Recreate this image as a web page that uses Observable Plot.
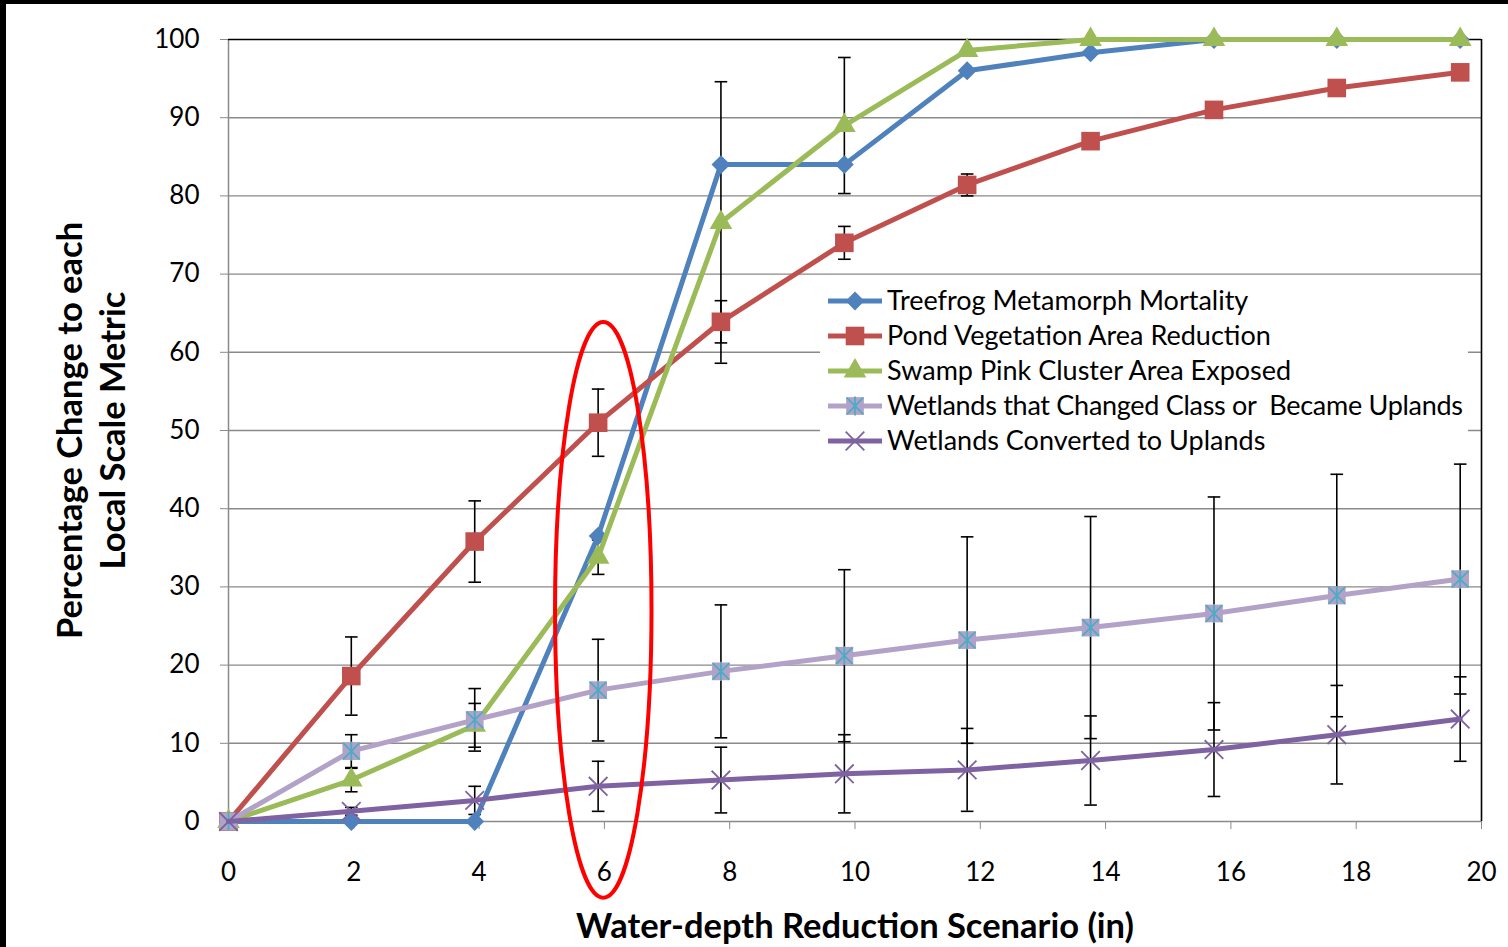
<!DOCTYPE html>
<html>
<head>
<meta charset="utf-8">
<script src="https://cdn.jsdelivr.net/npm/d3@7"></script>
<script src="https://cdn.jsdelivr.net/npm/@observablehq/plot@0.6"></script>
<style>
html, body { margin: 0; padding: 0; background: #fff; }
#frame { position: relative; width: 1508px; height: 947px; overflow: hidden; background: #fff; }
#frame::before { content: ""; position: absolute; left: 0; top: 0; width: 6px; height: 947px; background: #000; z-index: 2; }
#frame::after { content: ""; position: absolute; left: 0; top: 0; width: 1508px; height: 4px; background: #000; z-index: 2; }
#frame svg { position: absolute; left: 0; top: 0; }
</style>
</head>
<body>
<div id="frame"></div>
<script>
// ---- data ----
const scenarios = [0, 1.96, 3.93, 5.9, 7.86, 9.83, 11.79, 13.76, 15.73, 17.69, 19.66];
const xTicks = [0, 2, 4, 6, 8, 10, 12, 14, 16, 18, 20];
const yTicks = [0, 10, 20, 30, 40, 50, 60, 70, 80, 90, 100];
const seriesNames = [
  "Treefrog Metamorph Mortality",
  "Pond Vegetation Area Reduction",
  "Swamp Pink Cluster Area Exposed",
  "Wetlands that Changed Class or  Became Uplands",
  "Wetlands Converted to Uplands"
];
const treefrog     = [0, 0, 0, 36.5, 84, 84, 96, 98.3, 100, 100, 100];
const pondVeg      = [0, 18.6, 35.8, 51, 63.9, 74, 81.4, 87, 91, 93.8, 95.8];
const swampPink    = [0, 5.3, 12.3, 33.8, 76.6, 89, 98.6, 100, 100, 100, 100];
const wetChanged   = [0, 9, 13, 16.8, 19.2, 21.2, 23.2, 24.8, 26.6, 28.9, 31];
const wetConverted = [0, 1.3, 2.7, 4.5, 5.3, 6.1, 6.6, 7.8, 9.2, 11.1, 13.1];
// error bar half-widths (null = none visible)
const treefrogErr     = [null, null, null, null, null, null, null, null, null, null, null];
const pondVegErr      = [null, 5, 5.2, 4.3, 2.7, 2.1, 1.4, null, null, null, null];
const swampPinkErr    = [null, 1.5, 2.8, 2.2, 18, 8.7, null, null, null, null, null];
const wetChangedErr   = [null, 2.1, 4, 6.5, 8.5, 11, 13.2, 14.2, 14.9, 15.5, 14.7];
const wetConvertedErr = [null, 0.5, 1.8, 3.2, 4.2, 5, 5.3, 5.7, 6, 6.3, 5.4];
// highlighted scenario (red ellipse): centre and radii in data units
const highlightEllipse = [{cx: 5.99, cy: 27, rx: 0.77, ry: 36.8}];

const xTitle = "Water-depth Reduction Scenario (in)";
const yTitle = ["Percentage Change to each", "Local Scale Metric"];

// ---- styles ----
const colors = ["#4F81BD", "#C0504D", "#9BBB59", "#B3A2C7", "#7F62A1"];
const starColor = "#4BACC6";
const FONT = "Lato, 'Open Sans', sans-serif";

const seriesValues = [treefrog, pondVeg, swampPink, wetChanged, wetConverted];
const seriesErrors = [treefrogErr, pondVegErr, swampPinkErr, wetChangedErr, wetConvertedErr];
const rows = seriesNames.flatMap((name, i) =>
  seriesValues[i].map((v, j) => ({series: name, idx: i, x: scenarios[j], y: v, err: seriesErrors[i][j]})));
const errRows = rows.filter(d => d.err != null);
const bySeries = i => rows.filter(d => d.idx === i);

const capSymbol = {draw(ctx, size) { const r = Math.sqrt(size / Math.PI); ctx.moveTo(-r, 0); ctx.lineTo(r, 0); }};
const starSymbol = {draw(ctx, size) {
  const r = Math.sqrt(size / Math.PI);
  ctx.moveTo(-r, -r); ctx.lineTo(r, r);
  ctx.moveTo(r, -r); ctx.lineTo(-r, r);
  ctx.moveTo(0, -r * 1.15); ctx.lineTo(0, r * 1.15);
}};
const xSymbol = {draw(ctx, size) {
  const r = Math.sqrt(size / Math.PI);
  ctx.moveTo(-r, -r); ctx.lineTo(r, r);
  ctx.moveTo(r, -r); ctx.lineTo(-r, r);
}};

const gridGray = "#8a8a8a";
const LW = 5;

const chart = Plot.plot({
  width: 1508,
  height: 947,
  marginLeft: 228,
  marginRight: 27,
  marginTop: 39,
  marginBottom: 126,
  x: {domain: [0, 20]},
  y: {domain: [0, 100]},
  style: {fontFamily: FONT, background: "transparent", color: "#000"},
  marks: [
    Plot.gridY(yTicks.filter(t => t > 0 && t < 100), {stroke: gridGray, strokeOpacity: 1, strokeWidth: 1.4}),
    Plot.ruleX([0], {stroke: gridGray, strokeWidth: 1.5}),
    Plot.ruleY([0], {stroke: gridGray, strokeWidth: 1.5}),
    Plot.ruleY([100], {stroke: "#000", strokeWidth: 1.6}),
    Plot.ruleX([20], {stroke: "#000", strokeWidth: 1.6}),
    Plot.axisY(yTicks, {tickSize: 8, tickPadding: 21, stroke: gridGray, fill: "#000", fontSize: 26, label: null}),
    Plot.axisX(xTicks, {tickSize: 8, tickPadding: 33, stroke: gridGray, fill: "#000", fontSize: 26, label: null}),
    // error bars
    Plot.ruleX(errRows, {x: "x", y1: d => d.y - d.err, y2: d => d.y + d.err, stroke: "#000", strokeWidth: 1.6}),
    Plot.dot(errRows, {x: "x", y: d => d.y - d.err, symbol: capSymbol, r: 6.3, stroke: "#000", strokeWidth: 1.6}),
    Plot.dot(errRows, {x: "x", y: d => d.y + d.err, symbol: capSymbol, r: 6.3, stroke: "#000", strokeWidth: 1.6}),
    // series, in order: line then markers
    Plot.line(bySeries(0), {x: "x", y: "y", stroke: colors[0], strokeWidth: LW, strokeLinejoin: "round"}),
    Plot.dot(bySeries(0), {x: "x", y: "y", symbol: "diamond2", r: 8.5, fill: colors[0]}),
    Plot.line(bySeries(1), {x: "x", y: "y", stroke: colors[1], strokeWidth: LW, strokeLinejoin: "round"}),
    Plot.dot(bySeries(1), {x: "x", y: "y", symbol: "square", r: 10.5, fill: colors[1]}),
    Plot.line(bySeries(2), {x: "x", y: "y", stroke: colors[2], strokeWidth: LW, strokeLinejoin: "round"}),
    Plot.dot(bySeries(2), {x: "x", y: "y", symbol: "triangle", r: 8.4, fill: colors[2]}),
    Plot.line(bySeries(3), {x: "x", y: "y", stroke: colors[3], strokeWidth: LW, strokeLinejoin: "round"}),
    Plot.dot(bySeries(3), {x: "x", y: "y", symbol: "square", r: 10, fill: colors[3]}),
    Plot.dot(bySeries(3), {x: "x", y: "y", symbol: starSymbol, r: 8.3, stroke: starColor, strokeWidth: 1.8}),
    Plot.line(bySeries(4), {x: "x", y: "y", stroke: colors[4], strokeWidth: LW, strokeLinejoin: "round"}),
    Plot.dot(bySeries(4), {x: "x", y: "y", symbol: xSymbol, r: 9.3, stroke: colors[4], strokeWidth: 1.8}),
    // axis titles
    Plot.text([xTitle], {frameAnchor: "bottom", dy: 105, text: d => d, fontSize: 34.5, fontWeight: "bold",
      textAnchor: "middle", lineAnchor: "middle", fill: "#000"}),
    Plot.text([yTitle.join("\n")], {frameAnchor: "left", dx: -139, rotate: -90, text: d => d, fontSize: 34.5,
      fontWeight: "bold", textAnchor: "middle", lineAnchor: "middle", lineHeight: 1.25, fill: "#000"})
  ]
});

document.getElementById("frame").appendChild(chart);

// ---- overlay: legend and highlight ellipse, positioned with the chart's scales ----
const svg = d3.select(chart);
const sx = chart.scale("x"), sy = chart.scale("y");

const leg = svg.append("g").attr("font-family", FONT).attr("text-anchor", "start");
leg.append("rect").attr("x", 820).attr("y", 283).attr("width", 648).attr("height", 176).attr("fill", "#fff");
const legSymbols = [
  {type: d3.symbolDiamond2, size: 227, fill: colors[0]},
  {type: d3.symbolSquare, size: 346, fill: colors[1]},
  {type: d3.symbolTriangle, size: 222, fill: colors[2]},
  {type: d3.symbolSquare, size: 314, fill: colors[3], star: true},
  {type: null, stroke: colors[4], cross: true}
];
seriesNames.forEach((name, i) => {
  const cy = 301 + i * 35;
  const g = leg.append("g");
  g.append("line").attr("x1", 828).attr("x2", 882).attr("y1", cy).attr("y2", cy)
    .attr("stroke", colors[i]).attr("stroke-width", LW);
  const s = legSymbols[i];
  if (s.type) {
    g.append("path").attr("d", d3.symbol(s.type, s.size)())
      .attr("transform", `translate(855,${cy})`).attr("fill", s.fill);
  }
  if (s.star) {
    const r = 8.3;
    g.append("path").attr("d", `M${-r},${-r}L${r},${r}M${r},${-r}L${-r},${r}M0,${-r*1.15}L0,${r*1.15}`)
      .attr("transform", `translate(855,${cy})`).attr("stroke", starColor).attr("stroke-width", 1.8).attr("fill", "none");
  }
  if (s.cross) {
    const r = 9.3;
    g.append("path").attr("d", `M${-r},${-r}L${r},${r}M${r},${-r}L${-r},${r}`)
      .attr("transform", `translate(855,${cy})`).attr("stroke", s.stroke).attr("stroke-width", 1.8).attr("fill", "none");
  }
  g.append("text").attr("x", 887).attr("y", cy).attr("dy", "0.35em").attr("text-anchor", "start")
    .attr("font-size", 27).attr("fill", "#000").attr("textLength", i === 3 ? 576 : null).text(name);
});

svg.append("g").selectAll("ellipse").data(highlightEllipse).join("ellipse")
  .attr("cx", d => sx.apply(d.cx))
  .attr("cy", d => sy.apply(d.cy))
  .attr("rx", d => sx.apply(d.cx + d.rx) - sx.apply(d.cx))
  .attr("ry", d => sy.apply(d.cy - d.ry) - sy.apply(d.cy))
  .attr("fill", "none").attr("stroke", "#FF0000").attr("stroke-width", 4);
</script>
</body>
</html>
